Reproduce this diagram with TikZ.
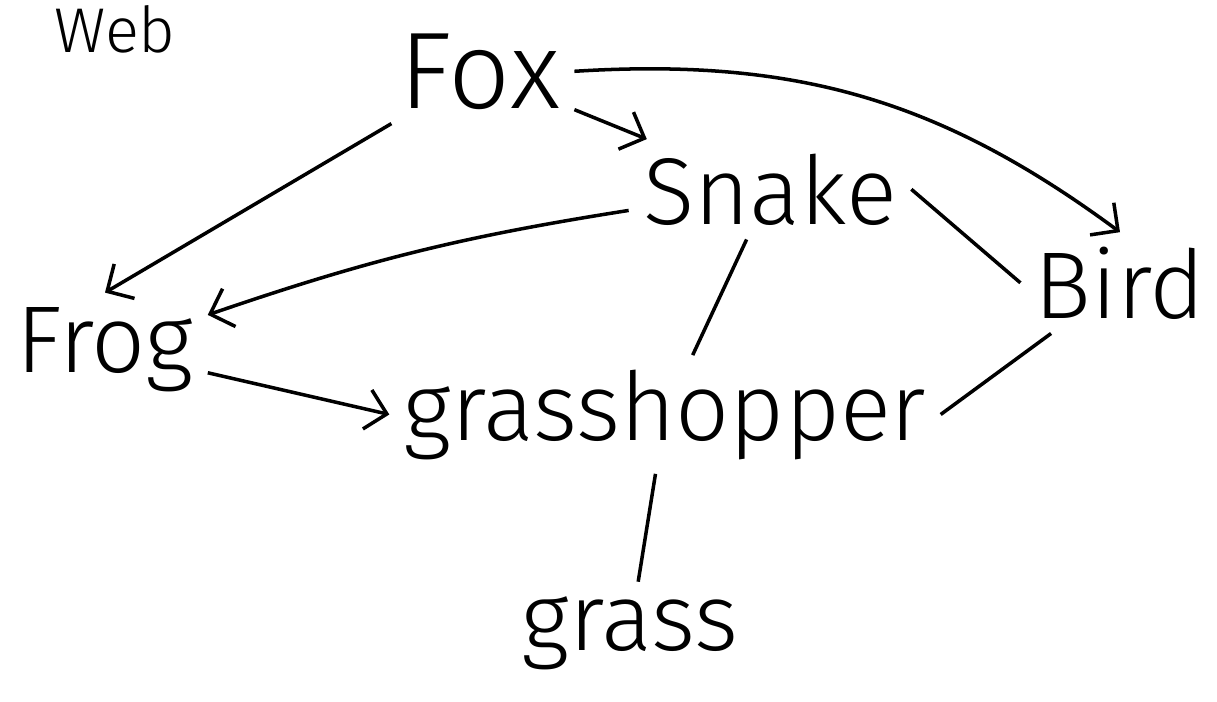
\documentclass[tikz,border=0pt]{standalone}
\usepackage{fontspec}
\setmainfont{Fira Sans Light}
\usetikzlibrary{arrows.meta}
\tikzset{
    animal/.style={
           font=\fontsize{54}{54}\selectfont,
           inner sep=8pt,
           anchor=base
           },
    eats/.style={line width=2pt},
}

\begin{document}
\begin{tikzpicture}[->,>={Straight Barb[length=4mm,width=8mm]},x=0.02cm,y=-0.02cm]
\useasboundingbox (0,0) rectangle (1217,701);

% organisms
\node[animal, font=\fontsize{36}{36}\selectfont, inner sep=3pt] (WEB) at (115,52) {Web};
\node[animal, font=\fontsize{62}{62}\selectfont] (FOX) at (480,108) {Fox};
\node[animal] (SNAKE) at (770,224) {Snake};
\node[animal] (BIRD) at (1120,318) {Bird};
\node[animal] (FROG) at (105,372) {Frog};
\node[animal] (GRASSHOPPER) at (665,440) {grasshopper};
\node[animal] (GRASS) at (630,650) {grass};

% who eats whom
\path[eats]
    (FOX)   edge (SNAKE)
    (FOX.east) edge[bend left=20] (BIRD.north)
    (FOX)   edge (FROG.north)
    (SNAKE) edge[bend right=5] (FROG)
    (FROG)  edge (GRASSHOPPER.west)
    % plain lines
    (SNAKE.east) edge[-] (BIRD.west)
    (SNAKE) edge[-] (GRASSHOPPER)
    (BIRD)  edge[-] (GRASSHOPPER.east)
    (GRASSHOPPER) edge[-] (GRASS)
    ;
\end{tikzpicture}
\end{document}
